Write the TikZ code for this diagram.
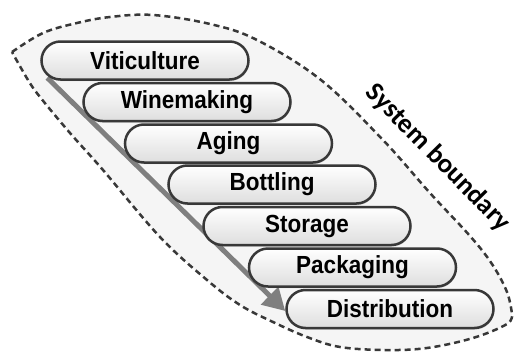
\documentclass[tikz,border=0pt]{standalone}
\usepackage{fontspec}
\usepackage{graphicx}
\setmainfont{Liberation Sans}
\newfontfamily\calib{Carlito}
\usetikzlibrary{arrows.meta,shadows}
\pgfdeclarelayer{bg}
\pgfdeclarelayer{mid}
\pgfsetlayers{bg,mid,main}
\definecolor{bordc}{HTML}{383838}
\definecolor{arrc}{HTML}{7F7F7F}
\definecolor{areac}{HTML}{F5F5F5}
\newcommand\stagetxt[1]{\scalebox{1}[1.1]{#1}}
\tikzset{
  stage/.style={draw=bordc, line width=2.5pt, rounded corners=19pt,
    minimum width=207pt, minimum height=38pt, inner sep=0pt,
    top color=white, bottom color=black!13,
    drop shadow={opacity=0.3, shadow xshift=0.6pt, shadow yshift=-1.6pt},
    font=\fontsize{22.5}{24}\selectfont\bfseries},
  flowarrow/.style={line width=5pt, draw=arrc,
    -{Triangle[length=22pt,width=24pt]}},
  boundary/.style={draw=bordc, line width=2.5pt, fill=areac,
    dash pattern=on 6pt off 4pt},
  blabel/.style={font=\calib\fontsize{27}{29}\selectfont\bfseries, rotate=-45.5,
    inner sep=0pt}
}
\begin{document}
\begin{tikzpicture}[x=1pt,y=-1pt]
\useasboundingbox (0,0) rectangle (514,351);
% stages
\node[stage] (vit) at (145,60.5) {\stagetxt{Viticulture}};
\node[stage] (win) at (187,102) {\stagetxt{Winemaking}};
\node[stage] (age) at (228.5,143.5) {\stagetxt{Aging}};
\node[stage] (bot) at (272,184.5) {\stagetxt{Bottling}};
\node[stage] (sto) at (307,226) {\stagetxt{Storage}};
\node[stage] (pac) at (352.5,267.5) {\stagetxt{Packaging}};
\node[stage] (dis) at (390,309) {\stagetxt{Distribution}};
\node[blabel] (lab) at (438,158) {System boundary};
% arrow behind the boxes
\coordinate (a0) at ([xshift=7pt,yshift=3pt]vit.south west);
\begin{pgfonlayer}{mid}
\draw[flowarrow] (a0) -- ([yshift=-2pt]dis.west);
\end{pgfonlayer}
% boundary
\begin{pgfonlayer}{bg}
\draw[boundary]
  plot[smooth, tension=0.6] coordinates {(12,52) (43,33) (77,23) (110,17) (153,15) (210,24) (257,40) (321,80) (383,140) (430,193) (470,236) (492,264) (507,292) (512,314)}
  -- plot[smooth, tension=0.6] coordinates {(512,314) (507,324) (473,338) (427,348) (385,350) (340,347) (307,337) (273,322) (240,305) (207,280) (160,237) (103,170) (70,133) (40,97) (28,80) (12,52)}
  -- cycle;
\end{pgfonlayer}
\end{tikzpicture}
\end{document}
